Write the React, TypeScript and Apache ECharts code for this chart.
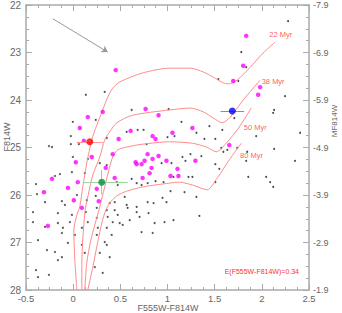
import React, { useEffect, useRef } from "react";
import * as echarts from "echarts";

const xTicks = [-0.5, 0, 0.5, 1, 1.5, 2, 2.5];
const yRange = [22, 28];
const absOffset = 29.9; // F814W - M_F814W
const xTitle = "F555W-F814W";
const yTitle = "F814W";
const y2Title = "MF814W";

const iso22: number[][] = [
  [0.039, 28.0], [0.018, 27.37], [0.007, 26.74], [0.039, 26.42], [0.07, 26.25], [0.102, 25.83],
  [0.144, 25.33], [0.197, 24.84], [0.25, 24.53], [0.313, 24.21], [0.366, 23.94], [0.419, 23.75],
  [0.493, 23.62], [0.736, 23.43], [1.021, 23.33], [1.243, 23.33], [1.38, 23.41], [1.486, 23.52],
  [1.592, 23.64], [1.644, 23.66], [1.739, 23.58], [1.877, 23.31], [2.014, 23.01], [2.141, 22.78],
];
const iso38: number[][] = [
  [0.092, 28.0], [0.092, 27.43], [0.123, 26.38], [0.155, 26.04], [0.208, 25.58], [0.282, 25.2],
  [0.334, 24.84], [0.387, 24.67], [0.461, 24.48], [0.63, 24.32], [1.021, 24.21], [1.243, 24.17],
  [1.38, 24.25], [1.486, 24.38], [1.581, 24.48], [1.665, 24.36], [1.803, 24.0], [1.982, 23.58],
];
const iso50: number[][] = [
  [0.123, 28.0], [0.144, 27.43], [0.187, 26.95], [0.229, 26.63], [0.282, 26.25], [0.334, 25.83],
  [0.387, 25.41], [0.419, 25.2], [0.472, 25.05], [0.567, 24.99], [0.736, 24.93], [1.021, 24.88],
  [1.264, 24.91], [1.412, 24.99], [1.518, 25.09], [1.623, 24.91], [1.76, 24.57], [1.887, 24.17],
];
const iso80: number[][] = [
  [0.155, 28.0], [0.208, 27.52], [0.25, 27.09], [0.292, 26.69], [0.334, 26.38], [0.387, 26.17],
  [0.461, 26.02], [0.567, 25.92], [0.736, 25.83], [1.021, 25.75], [1.127, 25.73], [1.264, 25.79],
  [1.422, 25.89], [1.528, 25.64], [1.655, 25.26], [1.782, 24.91],
];
const isoNames = ["22 Myr", "38 Myr", "50 Myr", "80 Myr"];
const isoLabelAt: number[][] = [[2.2, 22.63], [2.12, 23.6], [1.93, 24.57], [1.89, 25.16]];

const magentaStars: number[][] = [
  [0.451, 23.37], [0.313, 24.25], [0.155, 24.36], [0.07, 24.59], [0.113, 24.86], [0.768, 24.19],
  [0.905, 24.32], [0.842, 24.76], [0.873, 24.82], [0.482, 24.82], [0.419, 25.14], [0.789, 25.14],
  [0.905, 25.18], [0.197, 25.2], [0.609, 24.65], [1.834, 22.65], [1.803, 23.28], [1.697, 23.6],
  [1.982, 23.73], [1.961, 23.89], [1.053, 24.69], [1.264, 24.59], [1.655, 24.95], [0.028, 25.31],
  [-0.225, 25.66], [-0.31, 25.94], [-0.056, 25.85], [0.049, 25.73], [0.25, 25.87], [0.271, 26.13],
  [0.007, 26.11], [0.092, 26.27], [-0.268, 26.65], [0.345, 25.43], [0.44, 25.64], [0.662, 25.31],
  [0.673, 25.35], [0.725, 25.35], [0.757, 25.28], [0.842, 25.24], [0.81, 25.54], [0.831, 25.43],
  [0.736, 25.64], [0.989, 25.28], [1.296, 25.28], [1.106, 25.45], [1.032, 25.6], [1.116, 25.6],
];

const fieldStars: number[][] = [
  [2.278, 22.34], [1.782, 22.99], [1.834, 23.31], [1.539, 23.56], [1.75, 23.6], [0.134, 23.89],
  [0.334, 23.83], [0.62, 24.21], [1.011, 24.19], [2.246, 23.92], [2.13, 24.21], [2.12, 24.27],
  [-0.004, 24.46], [0.239, 24.42], [1.708, 24.38], [1.148, 24.46], [1.444, 24.55], [1.581, 24.63],
  [-0.025, 24.76], [-0.257, 24.97], [-0.225, 24.99], [-0.025, 24.93], [0.06, 24.93], [0.567, 24.67],
  [0.683, 24.63], [0.746, 24.63], [0.778, 24.93], [0.356, 24.8], [1.074, 24.76], [1.0, 24.78],
  [1.306, 24.69], [1.391, 24.82], [1.507, 24.82], [2.405, 24.69], [1.94, 24.76], [1.57, 25.01],
  [1.634, 25.05], [1.739, 25.01], [2.13, 25.03],
  [0.155, 25.24], [-0.004, 25.2], [-0.141, 25.56], [-0.194, 25.6], [-0.014, 25.52], [0.123, 25.54],
  [0.356, 25.37], [0.282, 25.33], [0.62, 25.66], [0.461, 25.73], [0.673, 25.75], [0.725, 25.79],
  [0.789, 25.75], [0.873, 25.71], [0.958, 25.73], [-0.394, 25.77], [1.158, 25.2], [1.243, 25.14],
  [1.359, 25.18], [1.592, 25.09], [1.845, 25.09], [0.937, 25.33], [1.042, 25.33], [1.19, 25.28],
  [1.507, 25.35], [1.549, 25.45], [1.063, 25.62], [1.222, 25.62], [1.264, 25.62], [1.507, 25.73],
  [1.032, 25.92], [1.18, 25.94], [1.306, 26.04], [0.947, 26.06], [1.856, 25.62], [2.046, 25.62],
  [2.088, 25.73], [2.12, 25.83], [2.352, 25.28], [1.834, 25.28], [-0.299, 26.15], [-0.12, 26.13],
  [-0.088, 26.21], [0.039, 26.0], [0.144, 26.11], [0.239, 26.02], [0.472, 25.79], [0.387, 26.17],
  [0.44, 26.15], [0.546, 26.04], [0.567, 26.21], [0.673, 26.25], [0.789, 26.15], [0.852, 26.17],
  [0.989, 26.15], [-0.384, 25.98],
  [-0.426, 26.36], [-0.162, 26.38], [-0.014, 26.42], [0.134, 26.36], [0.25, 26.27], [0.356, 26.32],
  [0.44, 26.32], [0.472, 26.42], [0.673, 26.36], [0.799, 26.38], [-0.426, 26.57], [-0.162, 26.59],
  [-0.035, 26.57], [0.25, 26.48], [0.366, 26.46], [0.419, 26.57], [0.525, 26.63], [0.599, 26.53],
  [0.704, 26.46], [0.863, 26.59], [0.968, 26.57], [-0.299, 26.67], [-0.109, 26.69], [0.092, 26.69],
  [0.261, 26.69], [0.356, 26.69], [0.725, 26.78], [0.842, 26.8], [-0.12, 26.8], [0.018, 26.84],
  [0.25, 26.84], [0.408, 26.84], [-0.373, 26.95], [-0.056, 27.01], [0.092, 27.05], [0.356, 27.05],
  [-0.278, 27.16], [-0.194, 27.2], [-0.12, 27.31], [-0.162, 27.37], [0.123, 27.22], [0.282, 27.22],
  [0.387, 27.31], [-0.394, 27.58], [-0.373, 27.73], [-0.257, 27.68], [0.229, 27.52], [0.313, 27.64],
  [1.063, 26.53], [1.338, 26.44], [0.155, 26.57], [0.334, 26.99], [0.493, 26.59], [0.577, 26.27],
];

// highlighted stars: [x, y, xErrLow, xErrHigh, yErrLow, yErrHigh]
const redStar = [0.176, 24.88, 0.14, 0.14, 0, 0];
const blueStar = [1.687, 24.23, 0.125, 0.125, 0, 0];
const greenStar = [0.303, 25.73, 0.2, 0.275, 0.26, 0.26];
const reddeningArrow: number[][] = [[-0.215, 22.29], [0.366, 22.99]];
const reddeningText = "E(F555W-F814W)=0.34";

const axisGrey = "#aaaaaa";
const textGrey = "#666666";
const font = "Liberation Sans, Arial, sans-serif";

function errorBars(s: number[], color: string) {
  const out: any[] = [];
  const [x, y, xl, xh, yl, yh] = s;
  if (xl || xh) out.push({ coords: [[x - xl, y], [x + xh, y]] });
  if (yl || yh) out.push({ coords: [[x, y - yl], [x, y + yh]] });
  return {
    type: "lines",
    coordinateSystem: "cartesian2d",
    data: out,
    lineStyle: { color, width: 1, opacity: 1 },
    symbol: "none",
    z: 5,
  };
}

export default function App() {
  const ref = useRef<HTMLDivElement>(null);
  useEffect(() => {
    if (!ref.current) return;
    const chart = echarts.init(ref.current, undefined, { renderer: "svg" });
    const isos = [iso22, iso38, iso50, iso80];
    const axisCommon = {
      axisLine: { show: true, onZero: false, lineStyle: { color: axisGrey, width: 1.5 } },
      axisTick: { show: true, inside: true, length: 6, lineStyle: { color: axisGrey } },
      minorTick: { show: true, splitNumber: 4, length: 3, lineStyle: { color: axisGrey } },
      splitLine: { show: false },
    };
    const titleStyle = { fill: textGrey, fontSize: 9, fontFamily: font, align: "center", verticalAlign: "middle" };
    chart.setOption({
      animation: false,
      backgroundColor: "#ffffff",
      grid: { left: 26, right: 33, top: 5, bottom: 23, containLabel: false, outerBoundsMode: "none" },
      xAxis: [
        {
          type: "value",
          min: xTicks[0],
          max: xTicks[xTicks.length - 1],
          interval: 0.5,
          position: "bottom",
          ...axisCommon,
          axisLabel: { color: textGrey, fontSize: 9.5, fontFamily: font, margin: 3 },
        },
        {
          type: "value",
          min: xTicks[0],
          max: xTicks[xTicks.length - 1],
          interval: 0.5,
          position: "top",
          ...axisCommon,
          axisLabel: { show: false },
        },
      ],
      yAxis: [
        {
          type: "value",
          min: yRange[0],
          max: yRange[1],
          interval: 1,
          inverse: true,
          position: "left",
          ...axisCommon,
          axisLabel: { color: textGrey, fontSize: 10, fontFamily: font, margin: 5 },
        },
        {
          type: "value",
          min: yRange[0],
          max: yRange[1],
          interval: 1,
          inverse: true,
          position: "right",
          ...axisCommon,
          axisLabel: {
            color: textGrey,
            fontSize: 9,
            fontFamily: font,
            margin: 4,
            formatter: (v: number) => (v - absOffset).toFixed(1),
          },
        },
      ],
      series: [
        {
          type: "scatter",
          data: fieldStars,
          symbolSize: 2,
          itemStyle: { color: "#222222" },
          z: 2,
        },
        ...isos.map((d) => ({
          type: "line",
          data: d,
          showSymbol: false,
          smooth: 0.25,
          lineStyle: { color: "#ff8a8a", width: 1 },
          z: 3,
        })),
        {
          type: "scatter",
          data: isoNames.map((n, i) => ({ value: isoLabelAt[i], name: n })),
          symbolSize: 0,
          label: {
            show: true,
            position: "inside",
            formatter: (p: any) => p.name,
            color: "#ff3030",
            fontSize: 7.5,
            fontFamily: font,
          },
          z: 6,
        },
        {
          type: "scatter",
          data: magentaStars,
          symbolSize: 4.5,
          itemStyle: { color: "#ff00ff" },
          z: 4,
        },
        errorBars(redStar, "#ff9999"),
        errorBars(blueStar, "#7f7fff"),
        errorBars(greenStar, "#99d699"),
        {
          type: "scatter",
          data: [
            { value: [redStar[0], redStar[1]], itemStyle: { color: "#ff0000" } },
            { value: [blueStar[0], blueStar[1]], itemStyle: { color: "#0000ff" } },
            { value: [greenStar[0], greenStar[1]], itemStyle: { color: "#008f3a" } },
          ],
          symbolSize: 7,
          z: 7,
        },
        {
          type: "lines",
          coordinateSystem: "cartesian2d",
          data: [{ coords: reddeningArrow }],
          symbol: ["none", "arrow"],
          symbolSize: 6,
          lineStyle: { color: "#999999", width: 1, opacity: 1 },
          z: 5,
        },
      ],
      graphic: [
        {
          type: "text",
          right: 43,
          top: 268,
          style: { text: reddeningText, fill: "#ff3030", fontSize: 7, fontFamily: font },
        },
        { type: "text", x: 168, y: 307.5, style: { ...titleStyle, text: xTitle } },
        { type: "text", x: 7, y: 137, rotation: Math.PI / 2, style: { ...titleStyle, text: yTitle } },
        { type: "text", x: 334, y: 121, rotation: Math.PI / 2, style: { ...titleStyle, fontSize: 8, text: y2Title } },
      ],
    });
    return () => chart.dispose();
  }, []);
  return (
    <div style={{ position: "fixed", left: 0, top: 0, width: 342, height: 313 }}>
      <div ref={ref} style={{ width: 342, height: 313 }} />
    </div>
  );
}
